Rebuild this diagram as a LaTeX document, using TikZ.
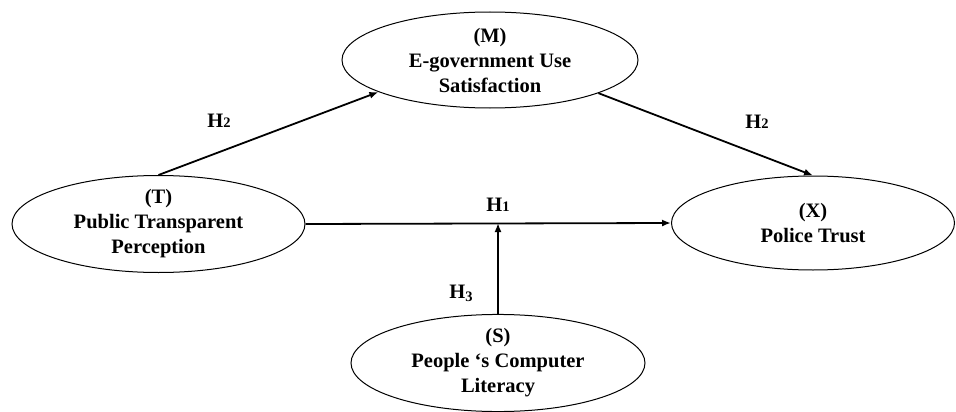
\documentclass[tikz,border=0pt]{standalone}
\usepackage{fontspec}
\setmainfont{Liberation Serif}
\usetikzlibrary{shapes.geometric,arrows.meta}
\newcommand\osn[1]{{\fontsize{14.5}{14.5}\selectfont #1}}
\tikzset{
  ell/.style={ellipse, draw, line width=1pt, inner sep=0pt, align=center,
    font=\fontsize{20.5}{25}\selectfont\bfseries},
  conn/.style={line width=1.8pt, -{Latex[length=9pt,width=7pt]}},
  hlab/.style={font=\fontsize{20.5}{25}\selectfont\bfseries, inner sep=0pt}
}
\begin{document}
\begin{tikzpicture}[x=1pt,y=-1pt]
\useasboundingbox (0,0) rectangle (956,412);
\node[ell, minimum width=296pt, minimum height=96pt] (M) at (490,60) {(M)\\E-government Use\\Satisfaction};
\node[ell, minimum width=293pt, minimum height=95pt] (T) at (158.5,224) {(T)\\Public Transparent\\Perception};
\node[ell, minimum width=283pt, minimum height=94pt] (X) at (813,223) {(X)\\Police Trust};
\node[ell, minimum width=294pt, minimum height=90pt] (S) at (498,363) {(S)\\People ‘s Computer\\Literacy};
\coordinate (J) at (S.north |- X.west);
\draw[conn] (T.north) -- (M.196.6);
\draw[conn] (M.-17.3) -- (X.north);
\draw[conn] (T.east) -- (X.west);
\draw[conn] (S.north) -- (J);
\node[hlab] (h2a) at (219,121) {H\osn{2}};
\node[hlab] (h2b) at (757,122) {H\osn{2}};
\node[hlab] (h1) at (498,205) {H\osn{1}};
\node[hlab] (h3) at (461,293) {H\raisebox{-3pt}{\osn{3}}};
\end{tikzpicture}
\end{document}
